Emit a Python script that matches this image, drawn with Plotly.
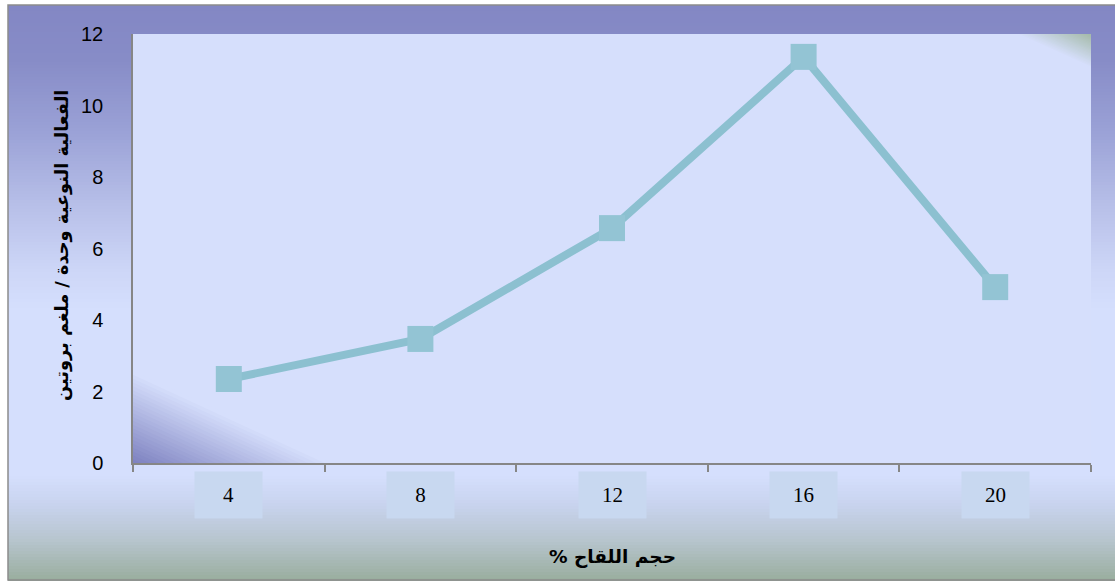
import plotly.graph_objects as go

# Inoculum volume (%) and specific activity (U / mg protein)
doses = ["4", "8", "12", "16", "20"]
activity = [2.35, 3.47, 6.57, 11.36, 4.92]
y_ticks = [0, 2, 4, 6, 8, 10, 12]

x_title = "حجم اللقاح %\u200f"
y_title = "الفعالية النوعية وحدة / ملغم بروتين"

W, H = 1115, 581
L, R, T, B = 133, 1091, 34, 463


def px(x):
    return (x - L) / (R - L)


def py(y):
    return (B - y) / (B - T)


def hex2rgb(h):
    h = h.lstrip("#")
    return tuple(int(h[i:i + 2], 16) for i in (0, 2, 4))


def mix(c1, c2, t):
    a, b = hex2rgb(c1), hex2rgb(c2)
    return "rgb(%d,%d,%d)" % tuple(round(a[i] + (b[i] - a[i]) * t) for i in range(3))


def grad_color(stops, v):
    for (v0, c0), (v1, c1) in zip(stops, stops[1:]):
        if v0 <= v <= v1:
            return mix(c0, c1, (v - v0) / (v1 - v0) if v1 > v0 else 0)
    return mix(stops[-1][1], stops[-1][1], 0)


shapes = []

# chart-area vertical gradient
bg_stops = [(5, "#8387C4"), (60, "#878CC7"), (130, "#9AA1D6"), (200, "#B5BDE7"),
            (270, "#CDD6F7"), (310, "#D5DFFD"), (475, "#D5DFFD"), (505, "#C8D3EE"),
            (540, "#B7C5CE"), (581, "#99AD9D")]
step = 3
y = 5
while y < 581:
    c = grad_color(bg_stops, y + step / 2)
    shapes.append(dict(type="rect", xref="paper", yref="paper", layer="below",
                       x0=px(8), x1=px(1116), y0=py(y), y1=py(min(y + step + 0.6, 582)),
                       fillcolor=c, line=dict(width=0)))
    y += step

# plot area fill
plot_bg = "#D6DFFC"
shapes.append(dict(type="rect", xref="paper", yref="paper", layer="below",
                   x0=0, x1=1, y0=0, y1=1, fillcolor=plot_bg, line=dict(width=0)))

# shaded corner wedges inside the plot area
N = 24
for k in range(N):
    t = 1 - k / N
    c = mix(plot_bg, "#7B7FBE", k / N)
    shapes.append(dict(type="path", xref="paper", yref="paper", layer="below",
                       path="M %f,%f L %f,%f L %f,%f Z" % (
                           px(L), py(B), px(L), py(B - 92 * t), px(L + 200 * t), py(B)),
                       fillcolor=c, line=dict(width=0)))
for k in range(N):
    t = 1 - k / N
    c = mix(plot_bg, "#A3B9A6", k / N)
    shapes.append(dict(type="path", xref="paper", yref="paper", layer="below",
                       path="M %f,%f L %f,%f L %f,%f Z" % (
                           px(R), py(T), px(R - 75 * t), py(T), px(R), py(T + 34 * t)),
                       fillcolor=c, line=dict(width=0)))

# outer frame
shapes.append(dict(type="rect", xref="paper", yref="paper", layer="above",
                   x0=px(8), x1=px(1117), y0=py(580), y1=py(5),
                   fillcolor="rgba(0,0,0,0)", line=dict(color="#8C8C8C", width=1.5)))

fig = go.Figure()
fig.add_trace(go.Scatter(
    x=doses, y=activity, mode="lines+markers",
    line=dict(color="#8CC0D0", width=8),
    marker=dict(symbol="square", size=26, color="#93C4D4", line=dict(width=0)),
    cliponaxis=False, showlegend=False,
))

annotations = []
# category labels in shaded boxes (category index positions on the x axis)
for i, d in enumerate(doses):
    annotations.append(dict(x=i, xref="x", y=py(495), yref="paper", text=d,
                            showarrow=False, xanchor="center", yanchor="middle",
                            width=65, height=44, bgcolor="#C8D8F0",
                            font=dict(family="Liberation Serif", size=21, color="#000")))
annotations.append(dict(x=px(612), y=py(557), xref="paper", yref="paper", text="<b>%s</b>" % x_title,
                        showarrow=False, xanchor="center", yanchor="middle",
                        font=dict(family="DejaVu Sans", size=18.5, color="#000")))
annotations.append(dict(x=px(62), y=py(246), xref="paper", yref="paper", text="<b>%s</b>" % y_title,
                        showarrow=False, xanchor="center", yanchor="middle", textangle=-90,
                        font=dict(family="DejaVu Sans", size=17.8, color="#000")))

fig.update_layout(
    width=W, height=H,
    margin=dict(l=L, r=W - R, t=T, b=H - B, pad=0),
    paper_bgcolor="white", plot_bgcolor="rgba(0,0,0,0)",
    shapes=shapes, annotations=annotations,
    xaxis=dict(type="category", showgrid=False, zeroline=False, showline=True,
               linecolor="#868686", linewidth=1.5, ticks="outside", tickson="boundaries",
               ticklen=7, tickcolor="#868686", tickwidth=1.5, showticklabels=False,
               range=[-0.5, 4.5]),
    yaxis=dict(range=[0, 12], tickvals=y_ticks, showgrid=False, zeroline=False,
               showline=True, linecolor="#868686", linewidth=1.5, ticks="",
               ticklabelstandoff=24,
               tickfont=dict(family="Liberation Sans", size=20, color="#000")),
)

fig.write_html("out.html")
